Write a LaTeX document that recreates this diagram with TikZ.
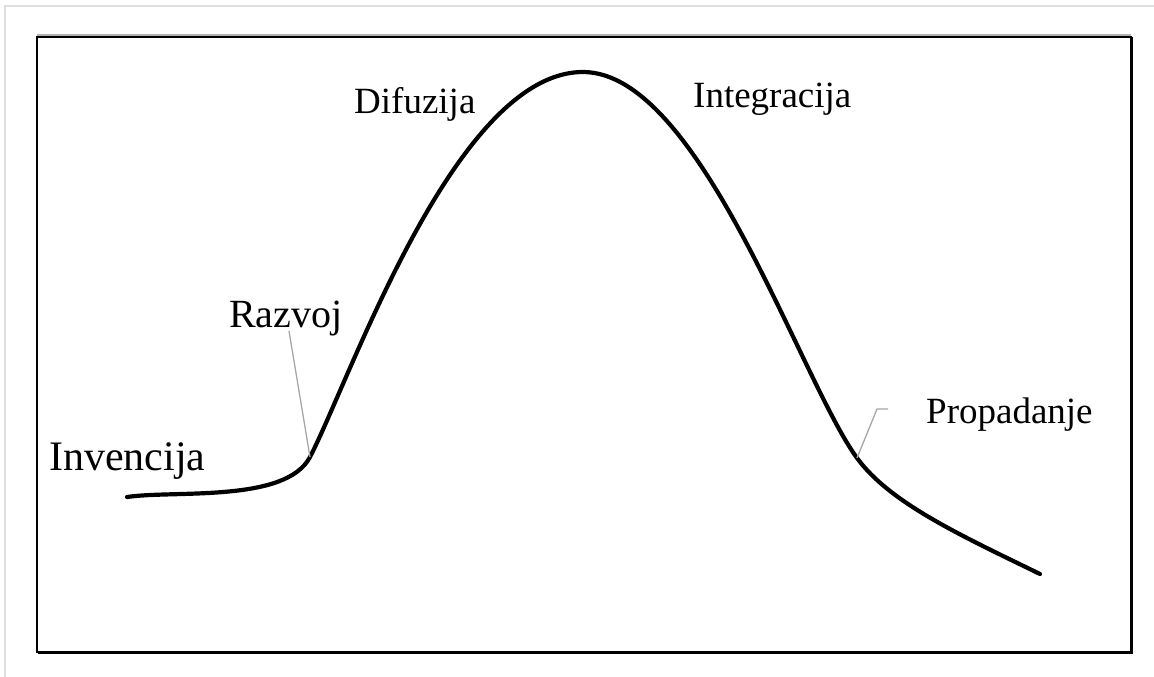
\documentclass[tikz,border=0pt]{standalone}
\usepackage{fontspec}
\setmainfont{Liberation Serif}
\begin{document}
\begin{tikzpicture}[x=1pt,y=-1pt,
  lbl/.style={anchor=base west,inner sep=0pt,font=\fontsize{37}{40}\selectfont},
  leader/.style={draw=gray!70,line width=1.3pt},
  curvestyle/.style={line width=4.2pt,line cap=round,line join=round}]
\useasboundingbox (0,0) rectangle (1154,677);
% outer light frame
\draw[gray!25,line width=2pt] (5,677) -- (5,6) -- (1154,6);
% main frame
\draw[gray!60,line width=1.2pt] (37,35) -- (1131,35);
\draw[black,line width=1.8pt] (37,37) rectangle (1131,652);
\draw[black,line width=1.2pt] (38,653.5) -- (1132.5,653.5) -- (1132.5,37);
% curve
\coordinate (c0) at (127,497);
\coordinate (c1) at (310,457);
\coordinate (c2) at (583,72);
\coordinate (c3) at (857,458);
\coordinate (c4) at (1040,574);
\draw[curvestyle] (c0) .. controls (175,490) and (286,503) .. (c1)
  .. controls (350,380) and (455,72) .. (c2)
  .. controls (700,72) and (800,380) .. (c3)
  .. controls (890,503) and (960,535) .. (c4);
% labels
\node[lbl,font=\fontsize{42}{45}\selectfont] (inv) at (49,470) {Invencija};
\node[lbl,font=\fontsize{40}{43}\selectfont] (raz) at (229,327) {Razvoj};
\node[lbl] (dif) at (354,113) {Difuzija};
\node[lbl] (int) at (693,107) {Integracija};
\node[lbl] (pro) at (926,423) {Propadanje};
% leaders
\coordinate (rzA) at (289,331);
\coordinate (prA) at (888,409);
\coordinate (prK) at (877,409);
\draw[leader] (rzA) -- (c1);
\draw[leader] (prA) -- (prK) -- (c3);
\end{tikzpicture}
\end{document}
